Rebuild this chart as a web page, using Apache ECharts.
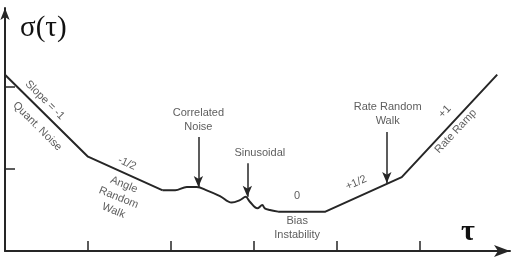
<!DOCTYPE html>
<html>
<head>
<meta charset="utf-8">
<script src="https://cdn.jsdelivr.net/npm/echarts@6/dist/echarts.min.js"></script>
<style>
  html, body { margin: 0; padding: 0; background: #fff; }
  #chart { width: 522px; height: 265px; }
</style>
</head>
<body>
<div id="chart"></div>
<script>
// Allan deviation sketch, axes in "tick units" (one x tick = 1, one y tick = 1)
const tauLeft = [0, 1.0, 1.9];
const sigmaLeft = [2.15, 1.15, 0.74];

const tauWave = [1.9, 2.05, 2.19, 2.31, 2.43, 2.59, 2.73, 2.83, 2.9, 2.95, 3.04, 3.1, 3.13, 3.19, 3.29];
const sigmaWave = [0.74, 0.74, 0.78, 0.78, 0.74, 0.67, 0.59, 0.62, 0.66, 0.6, 0.52, 0.56, 0.52, 0.5, 0.48];

const tauRight = [3.29, 3.86, 4.78, 5.93];
const sigmaRight = [0.48, 0.48, 0.9, 2.15];

const xTicks = [1, 2, 3, 4, 5];
const yTicks = [1, 2];

// annotations
const noteText = ["Slope = -1", "Quant. Noise", "-1/2", "Angle\nRandom\nWalk", "Correlated\nNoise",
  "Sinusoidal", "0", "Bias\nInstability", "+1/2", "Rate Random\nWalk", "+1", "Rate Ramp"];
const noteTau = [0.48, 0.39, 1.47, 1.37, 2.33, 3.07, 3.52, 3.52, 4.23, 4.61, 5.3, 5.43];
const noteSigma = [1.84, 1.52, 1.07, 0.65, 1.6, 1.2, 0.67, 0.28, 0.83, 1.67, 1.7, 1.46];
const noteRotate = [-45, -45, -24, -22, 0, 0, 0, 0, 24, 0, 47, 47];

// pointer arrows: [tau, from sigma, to sigma]
const arrowTau = [2.33, 2.92, 4.6];
const arrowFrom = [1.39, 1.07, 1.45];
const arrowTo = [0.78, 0.66, 0.83];

const INK = "#262626";
const TEXT = "#333";

const chart = echarts.init(document.getElementById("chart"));

const zip = (xs, ys) => xs.map((x, i) => [x, ys[i]]);

const curveStyle = { color: INK, width: 2 };

const option = {
  animation: false,
  grid: { left: 5, right: 12, top: 8, bottom: 14 },
  xAxis: {
    type: "value",
    min: 0,
    max: 6.084,
    interval: 1,
    axisLine: {
      show: true,
      symbol: ["none", "arrow"],
      symbolSize: [9, 16],
      lineStyle: { color: INK, width: 2 },
    },
    axisTick: {
      show: true,
      inside: true,
      length: 10,
      customValues: xTicks,
      lineStyle: { color: INK, width: 1.5 },
    },
    axisLabel: { show: false },
    splitLine: { show: false },
  },
  yAxis: {
    type: "value",
    min: 0,
    max: 2.963,
    interval: 1,
    axisLine: {
      show: true,
      symbol: ["none", "arrow"],
      symbolSize: [7, 12],
      lineStyle: { color: INK, width: 2 },
    },
    axisTick: {
      show: true,
      inside: true,
      length: 10,
      customValues: yTicks,
      lineStyle: { color: INK, width: 1.5 },
    },
    axisLabel: { show: false },
    splitLine: { show: false },
  },
  graphic: [
    {
      type: "text",
      left: 20,
      top: 14,
      style: {
        text: "σ(τ)",
        font: "29px 'Liberation Serif', 'DejaVu Serif', serif",
        fill: "#111",
      },
    },
    {
      type: "text",
      left: 461,
      top: 217,
      style: {
        text: "τ",
        font: "bold 30px 'Liberation Serif', 'DejaVu Serif', serif",
        fill: "#111",
      },
    },
  ],
  series: [
    {
      type: "line",
      data: zip(tauLeft, sigmaLeft),
      showSymbol: false,
      lineStyle: curveStyle,
      silent: true,
    },
    {
      type: "line",
      data: zip(tauWave, sigmaWave),
      showSymbol: false,
      smooth: 0.35,
      lineStyle: curveStyle,
      silent: true,
    },
    {
      type: "line",
      data: zip(tauRight, sigmaRight),
      showSymbol: false,
      lineStyle: curveStyle,
      silent: true,
    },
    {
      type: "scatter",
      symbolSize: 0,
      silent: true,
      data: noteText.map((t, i) => ({
        value: [noteTau[i], noteSigma[i]],
        label: { formatter: t, rotate: noteRotate[i] },
      })),
      label: {
        show: true,
        position: "inside",
        color: TEXT,
        fontSize: 11,
        lineHeight: 14,
        fontFamily: "'Liberation Sans', Arial, sans-serif",
        align: "center",
        verticalAlign: "middle",
      },
      markLine: {
        silent: true,
        symbol: ["none", "arrow"],
        symbolSize: [7, 11],
        label: { show: false },
        lineStyle: { color: INK, width: 1.5, type: "solid" },
        data: arrowTau.map((x, i) => [
          { coord: [x, arrowFrom[i]] },
          { coord: [x, arrowTo[i]] },
        ]),
      },
    },
  ],
};

chart.setOption(option);
</script>
</body>
</html>
